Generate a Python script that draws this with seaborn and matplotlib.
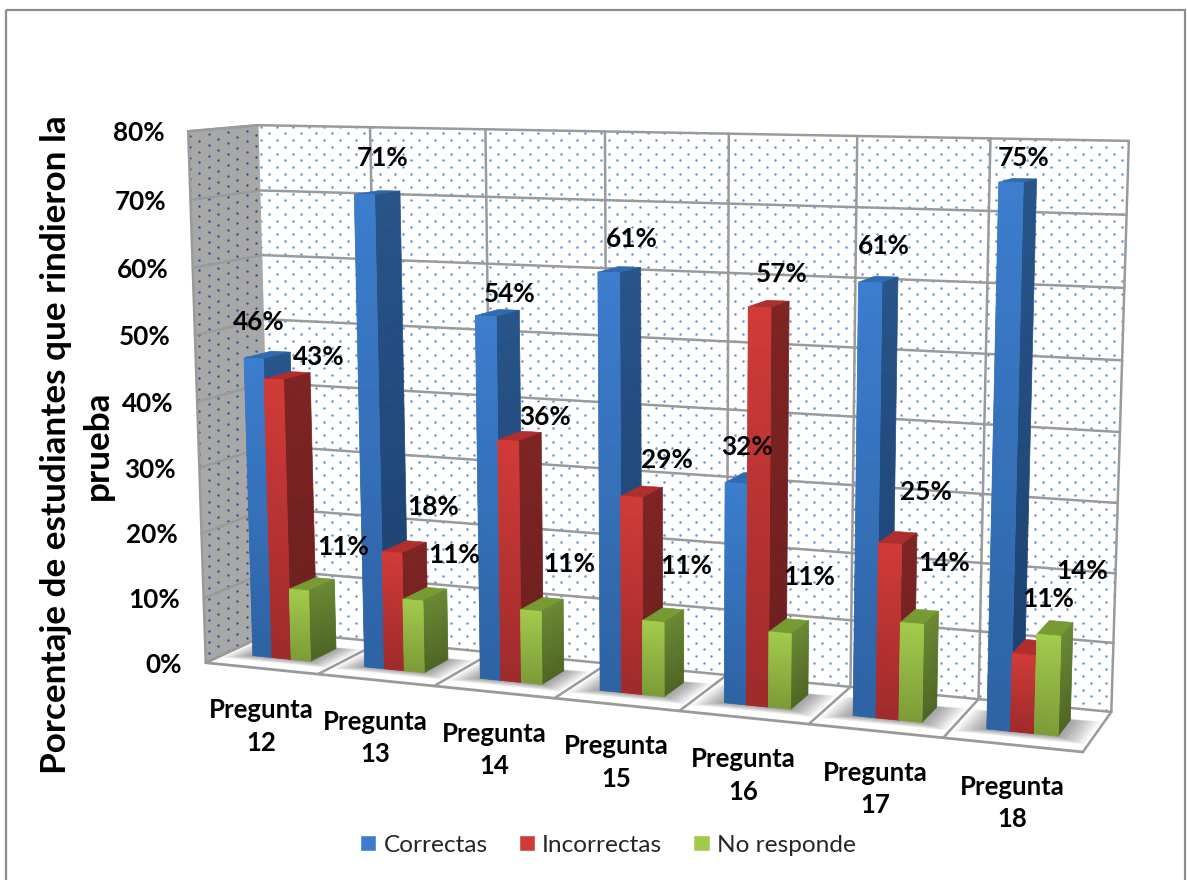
import numpy as np
import pandas as pd
import matplotlib
matplotlib.use("Agg")
import matplotlib.pyplot as plt
import matplotlib.transforms as mtrans
from matplotlib.collections import PolyCollection
from matplotlib.patches import Polygon, Rectangle
import seaborn as sns

# ---------- data ----------
categories = ["Pregunta\n12", "Pregunta\n13", "Pregunta\n14", "Pregunta\n15",
              "Pregunta\n16", "Pregunta\n17", "Pregunta\n18"]
correctas = [0.46, 0.71, 0.54, 0.61, 0.32, 0.61, 0.75]
incorrectas = [0.43, 0.18, 0.36, 0.29, 0.57, 0.25, 0.11]
no_responde = [0.11, 0.11, 0.11, 0.11, 0.11, 0.14, 0.14]
series_names = ["Correctas", "Incorrectas", "No responde"]
y_ticks = [0, 0.1, 0.2, 0.3, 0.4, 0.5, 0.6, 0.7, 0.8]
y_title = "Porcentaje de estudiantes que rindieron la\nprueba"

# ---------- layout / style ----------
W, H = 1187, 880
FONT = "Lato"
DEPTH_FRONT, DEPTH_BACK = 0.30, 0.70
CLUSTER_WIDTH = 0.52
COL = {
    "Correctas": dict(top="#3C7DCD", bot="#2D62A3", stop="#275489", sbot="#1C3F6E", cap="#2F6AB2"),
    "Incorrectas": dict(top="#D03B38", bot="#9E2A2B", stop="#7E2423", sbot="#6C1E1E", cap="#AE2F2E"),
    "No responde": dict(top="#A2CB4C", bot="#7C9A38", stop="#698832", sbot="#4E6424", cap="#779B32"),
}
GRID = "#9A9A9A"
# label offsets (pixels) from the projected top of each bar, one row per series
LABEL_OFFSETS = [
    [(-9, -33), (5, -35), (12, -19), (12, -31), (1, -31), (5, -34), (6, -23)],
    [(32, -19), (29, -40), (25, -19), (25, -32), (13, -30), (28, -46), (17, -48)],
    [(31, -37), (29, -39), (27, -40), (23, -49), (20, -49), (25, -54), (27, -57)],
]

# calibration of the 3D box: (category position, value, depth) -> picture pixel
BOX_3D = np.array([
    (0, 0, 0), (7, 0, 0), (0, 0, 1), (7, 0, 1), (0, .8, 0), (0, .8, 1), (7, .8, 1),
    (1, .8, 1), (6, .8, 1), (1, 0, 0), (6, 0, 0),
], float)
BOX_PX = np.array([
    (205, 663), (1084, 753), (272, 632), (1111, 712), (187, 132), (259, 125), (1129, 141),
    (371, 127), (990, 138), (320, 673), (942, 737),
], float)


def fit_camera(p3, p2):
    n3 = p3 / np.array([7, .8, 1])
    n2 = p2 / 1000.0
    rows = []
    for (a, b, c), (x, y) in zip(n3, n2):
        rows.append([a, b, c, 1, 0, 0, 0, 0, -x * a, -x * b, -x * c, -x])
        rows.append([0, 0, 0, 0, a, b, c, 1, -y * a, -y * b, -y * c, -y])
    m = np.linalg.svd(np.array(rows))[2][-1].reshape(3, 4)
    return m


CAM = fit_camera(BOX_3D, BOX_PX)


def proj(u, v, w):
    u, v, w = np.asarray(u, float), np.asarray(v, float), np.asarray(w, float)
    u, v, w = np.broadcast_arrays(u, v, w)
    h = np.stack([u / 7, v / .8, w, np.ones_like(u)], -1) @ CAM.T
    return h[..., :2] / h[..., 2:3] * 1000


class FrontPlane(mtrans.Transform):
    """Maps the bar plot's data plane onto the bars' front plane in the 3D box."""
    input_dims = output_dims = 2
    is_separable = False
    has_inverse = False

    def __init__(self, w):
        super().__init__()
        self.w = w

    def transform_non_affine(self, xy):
        xy = np.asarray(xy, float)
        p = proj(xy[:, 0] + 0.5, xy[:, 1], self.w)
        return np.column_stack([p[:, 0], H - p[:, 1]])


def mix(c0, c1, t):
    a, b = np.array(matplotlib.colors.to_rgb(c0)), np.array(matplotlib.colors.to_rgb(c1))
    return a + (b - a) * t


# ---------- figure ----------
sns.set_theme(style="white")
plt.rcParams["font.family"] = [FONT, "DejaVu Sans"]
fig = plt.figure(figsize=(W / 100, H / 100), dpi=100, facecolor="white")
ax = fig.add_axes([0, 0, 1, 1])

df = pd.DataFrame({
    "pregunta": categories * 3,
    "serie": np.repeat(series_names, len(categories)),
    "valor": correctas + incorrectas + no_responde,
})
sns.barplot(data=df, x="pregunta", y="valor", hue="serie", hue_order=series_names,
            order=categories, width=CLUSTER_WIDTH, gap=0, saturation=1,
            palette={s: COL[s]["top"] for s in series_names}, ax=ax, zorder=20)
ax.set_xlim(-0.5, 6.5)
ax.set_ylim(0, 0.8)
ax.axis("off")

PX = mtrans.Affine2D().scale(1, -1).translate(0, H)


def poly(pts, **kw):
    p = Polygon(np.asarray(pts), closed=True, transform=PX, **kw)
    ax.add_patch(p)
    return p


def line(pts, z=4, lw=1.8, c=GRID):
    pts = np.asarray(pts)
    ax.plot(pts[:, 0], pts[:, 1], transform=PX, color=c, lw=lw, zorder=z,
            solid_capstyle="round", clip_on=False)


# outer frame
ax.add_patch(Rectangle((6, 10), 1179, 900, transform=PX, fill=False, ec="#8C8C8C", lw=1.6,
                       clip_on=False, zorder=1))

# walls and floor
back = proj([0, 7, 7, 0], [0, 0, .8, .8], 1)
left = proj(0, [0, .8, .8, 0], [0, 0, 1, 1])
floor = proj([0, 7, 7, 0], 0, [0, 0, 1, 1])
back_p = poly(back, fc="white", ec="none", zorder=2)
left_p = poly(left, fc="#A8A8A8", ec="none", zorder=2)
floor_p = poly(floor, fc="white", ec="none", zorder=3)

# dotted pattern of the walls
gx, gy = np.meshgrid(np.arange(190, 1140, 15.8), np.arange(120, 720, 6.7))
gx = gx + (np.arange(gx.shape[0]) % 2)[:, None] * 7.9
sc = ax.scatter(gx.ravel(), gy.ravel(), s=3.2, c="#5E93D6", linewidths=0, transform=PX, zorder=2.5)
sc.set_clip_path(back_p)
gx2, gy2 = np.meshgrid(np.arange(180, 285, 19.0), np.arange(120, 690, 5.4))
gx2 = gx2 + (np.arange(gx2.shape[0]) % 2)[:, None] * 9.5
sc2 = ax.scatter(gx2.ravel(), gy2.ravel() - 0.1 * (gx2.ravel() - 190), s=3, c="#2A5590", linewidths=0,
                 transform=PX, zorder=2.5)
sc2.set_clip_path(left_p)

# grid lines
for t in y_ticks:
    line(proj([0, 0, 7], t, [0, 1, 1]))
for i in range(1, 8):
    line(proj(i, [0, .8], 1))
for i in range(0, 8):
    line(proj(i, 0, [0, 1]), z=4.5)
line(proj([0, 7], 0, 0), z=4.5, lw=2)
line(proj(0, [0, .8], 0))
line(proj([0, 0], .8, [0, 1]))

# soft shadow under every cluster
for i in range(len(categories)):
    c0, c1 = i + .5 - CLUSTER_WIDTH / 2, i + .5 + CLUSTER_WIDTH / 2
    for k in range(9):
        m = 0.21 - k * 0.022
        d = 0.13 - k * 0.014
        s = poly(proj([c0 - m, c1 + m, c1 + m, c0 - m], 0,
                      [DEPTH_FRONT - d, DEPTH_FRONT - d, DEPTH_BACK + d * .3, DEPTH_BACK + d * .3]),
                 fc="black", alpha=0.045, ec="none", zorder=4.2)
        s.set_clip_path(floor_p)

# bars: seaborn's rectangles carried to the front plane, side and cap behind them
front_tf = FrontPlane(DEPTH_FRONT)
for s_i, (name, cont) in enumerate(zip(series_names, ax.containers)):
    col = COL[name]
    for c_i, bar in enumerate(cont):
        x0, x1 = bar.get_x(), bar.get_x() + bar.get_width()
        v = bar.get_height()
        u0, u1 = x0 + .5, x1 + .5
        z = 10 + 3 * s_i + c_i * 30
        bar.set_transform(front_tf)
        bar.set_edgecolor("none")
        bar.set_zorder(z + 0.5)
        n = 30
        tt = np.linspace(0, 1, n + 1)
        side, front = [], []
        fc_side, fc_front = [], []
        for a, b in zip(tt[:-1], tt[1:]):
            va, vb = v * (1 - a), v * (1 - b)
            side.append(proj([u1, u1, u1, u1], [va, va, vb, vb],
                             [DEPTH_FRONT, DEPTH_BACK, DEPTH_BACK, DEPTH_FRONT]))
            front.append(proj([u0, u1, u1, u0], [va, va, vb, vb], DEPTH_FRONT))
            fc_side.append(mix(col["stop"], col["sbot"], a))
            fc_front.append(mix(col["top"], col["bot"], a))
        poly(proj([u0, u1, u1, u0], v, [DEPTH_FRONT, DEPTH_FRONT, DEPTH_BACK, DEPTH_BACK]),
             fc=col["cap"], ec=col["cap"], lw=.4, zorder=z + .1)
        for pts, fcs, zz in ((side, fc_side, z + .2), (front, fc_front, z + .6)):
            pc = PolyCollection(pts, facecolors=fcs, edgecolors=fcs, linewidths=.5,
                                transform=PX, zorder=zz)
            ax.add_collection(pc, autolim=False)
        # value label
        top = proj((u0 + u1) / 2, v, (DEPTH_FRONT + DEPTH_BACK) / 2)
        dx, dy = LABEL_OFFSETS[s_i][c_i]
        ax.text(top[0] + dx, top[1] + dy, f"{v * 100:.0f}%", transform=PX, ha="center", va="center",
                fontsize=18.8, fontweight="bold", color="black", zorder=600)

# value axis labels
for t in y_ticks:
    p = proj(0, t, 0)
    ax.text(p[0] - 24, p[1] + 2, f"{t * 100:.0f}%", transform=PX, ha="right", va="center",
            fontsize=18.8, fontweight="bold", color="black", zorder=600)

# category labels
for i, lab in enumerate(categories):
    p = proj(i + .5, 0, 0)
    ax.text(p[0], p[1] + 58, lab, transform=PX, ha="center", va="center", linespacing=1.42,
            fontsize=18.5, fontweight="bold", color="black", zorder=600)

# axis title
ax.text(77, 445, y_title, transform=PX, rotation=90, ha="center", va="center", multialignment="center",
        fontsize=25.3, fontweight="bold", color="black", linespacing=1.4, zorder=600)

# legend
sns.move_legend(ax, "center", bbox_to_anchor=(608 / W, 1 - 845 / H), ncol=3, frameon=False, title=None,
                fontsize=17.6, handlelength=0.66, handleheight=0.66, handletextpad=0.3, columnspacing=1.27,
                borderpad=0)

fig.savefig("out.png", dpi=100, facecolor="white")
